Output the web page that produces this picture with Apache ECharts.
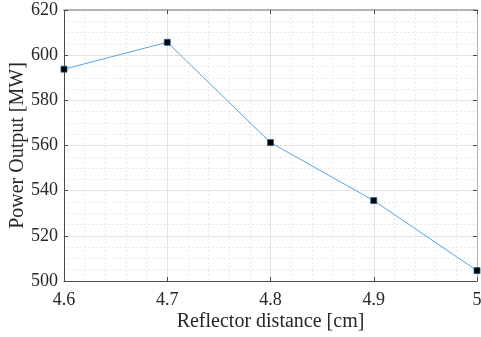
<!DOCTYPE html>
<html>
<head>
<meta charset="utf-8">
<script src="https://cdn.jsdelivr.net/npm/echarts@6/dist/echarts.min.js"></script>
<style>html,body{margin:0;padding:0;background:#fff}#c{width:481px;height:337px}</style>
</head>
<body>
<div id="c"></div>
<script>
var distances = [4.6, 4.7, 4.8, 4.9, 5.0];
var power = [593.8, 605.7, 561.3, 535.6, 504.6];
var xTicks = {min: 4.6, max: 5.0, interval: 0.1};
var yTicks = {min: 500, max: 620, interval: 20};

var font = 'Liberation Serif';
var chart = echarts.init(document.getElementById('c'), null, {renderer: 'canvas'});
var gridLine = {show: true, lineStyle: {color: '#e3e3e3', width: 1}};
var minorLine = {show: true, lineStyle: {color: '#eaeaea', width: 1, type: [2, 2]}};
chart.setOption({
  animation: false,
  grid: {left: 64, right: 4, top: 10, bottom: 56, containLabel: false, outerBoundsMode: 'none'},
  xAxis: [{
    type: 'value', min: xTicks.min, max: xTicks.max, interval: xTicks.interval,
    name: 'Reflector distance [cm]', nameLocation: 'middle', nameGap: 31, nameMoveOverlap: false,
    nameTextStyle: {fontFamily: font, fontSize: 20, color: '#262626'},
    axisLine: {show: true, onZero: false, lineStyle: {color: '#4d4d4d', width: 1}},
    axisTick: {show: true, inside: true, length: 4, lineStyle: {color: '#4d4d4d'}},
    axisLabel: {fontFamily: font, fontSize: 18, color: '#262626', margin: 10,
      formatter: function (v) { return String(+v.toFixed(1)); }},
    splitLine: gridLine,
    minorTick: {show: false, splitNumber: 5},
    minorSplitLine: minorLine
  }, {
    type: 'value', position: 'top', min: xTicks.min, max: xTicks.max, interval: xTicks.interval,
    axisLine: {show: true, onZero: false, lineStyle: {color: '#b3b3b3', width: 2}},
    axisTick: {show: true, inside: true, length: 4, lineStyle: {color: '#4d4d4d'}},
    axisLabel: {show: false}, splitLine: {show: false}
  }],
  yAxis: [{
    type: 'value', min: yTicks.min, max: yTicks.max, interval: yTicks.interval,
    name: 'Power Output [MW]', nameLocation: 'middle', nameGap: 36, nameMoveOverlap: false,
    nameTextStyle: {fontFamily: font, fontSize: 20, color: '#262626'},
    axisLine: {show: true, onZero: false, lineStyle: {color: '#4d4d4d', width: 1}},
    axisTick: {show: true, inside: true, length: 4, lineStyle: {color: '#4d4d4d'}},
    axisLabel: {fontFamily: font, fontSize: 18, color: '#262626', margin: 6},
    splitLine: gridLine,
    minorTick: {show: false, splitNumber: 4},
    minorSplitLine: minorLine
  }, {
    type: 'value', position: 'right', min: yTicks.min, max: yTicks.max, interval: yTicks.interval,
    axisLine: {show: true, onZero: false, lineStyle: {color: '#b3b3b3', width: 1}},
    axisTick: {show: true, inside: true, length: 4, lineStyle: {color: '#4d4d4d'}},
    axisLabel: {show: false}, splitLine: {show: false}
  }],
  series: [{
    type: 'line',
    data: distances.map(function (d, i) { return [d, power[i]]; }),
    symbol: 'rect', symbolSize: 6,
    itemStyle: {color: '#000', borderColor: '#1f5f8f', borderWidth: 0.8},
    lineStyle: {color: '#5aa3dc', width: 1},
    clip: false
  }]
});
</script>
</body>
</html>
